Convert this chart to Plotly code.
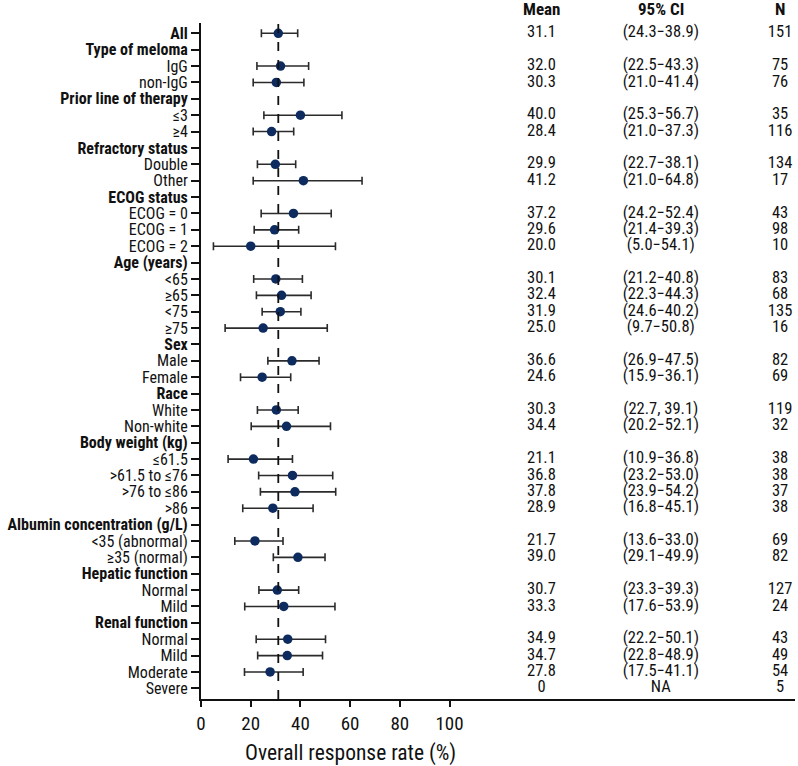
import plotly.graph_objects as go

FONT = "Roboto Condensed, Liberation Sans Narrow, sans-serif"

labels = ["All", "Type of meloma", "IgG", "non-IgG", "Prior line of therapy", "≤3", "≥4",
          "Refractory status", "Double", "Other", "ECOG status", "ECOG = 0", "ECOG = 1", "ECOG = 2",
          "Age (years)", "<65", "≥65", "<75", "≥75", "Sex", "Male", "Female", "Race", "White",
          "Non-white", "Body weight (kg)", "≤61.5", ">61.5 to ≤76", ">76 to ≤86", ">86",
          "Albumin concentration (g/L)", "<35 (abnormal)", "≥35 (normal)", "Hepatic function",
          "Normal", "Mild", "Renal function", "Normal", "Mild", "Moderate", "Severe"]
header_rows = [0, 1, 4, 7, 10, 14, 19, 22, 25, 30, 33, 36]

mean = [31.1, None, 32.0, 30.3, None, 40.0, 28.4, None, 29.9, 41.2, None, 37.2, 29.6, 20.0,
        None, 30.1, 32.4, 31.9, 25.0, None, 36.6, 24.6, None, 30.3, 34.4, None, 21.1, 36.8, 37.8, 28.9,
        None, 21.7, 39.0, None, 30.7, 33.3, None, 34.9, 34.7, 27.8, 0]
lo = [24.3, None, 22.5, 21.0, None, 25.3, 21.0, None, 22.7, 21.0, None, 24.2, 21.4, 5.0,
      None, 21.2, 22.3, 24.6, 9.7, None, 26.9, 15.9, None, 22.7, 20.2, None, 10.9, 23.2, 23.9, 16.8,
      None, 13.6, 29.1, None, 23.3, 17.6, None, 22.2, 22.8, 17.5, None]
hi = [38.9, None, 43.3, 41.4, None, 56.7, 37.3, None, 38.1, 64.8, None, 52.4, 39.3, 54.1,
      None, 40.8, 44.3, 40.2, 50.8, None, 47.5, 36.1, None, 39.1, 52.1, None, 36.8, 53.0, 54.2, 45.1,
      None, 33.0, 49.9, None, 39.3, 53.9, None, 50.1, 48.9, 41.1, None]
n = [151, None, 75, 76, None, 35, 116, None, 134, 17, None, 43, 98, 10,
     None, 83, 68, 135, 16, None, 82, 69, None, 119, 32, None, 38, 38, 37, 38,
     None, 69, 82, None, 127, 24, None, 43, 49, 54, 5]

overall = 31.1
rows = list(range(len(labels)))

# plotted points (Severe has no estimate)
px, py, ep, em = [], [], [], []
for i in rows:
    if lo[i] is None:
        continue
    px.append(mean[i]); py.append(i)
    ep.append(hi[i] - mean[i]); em.append(mean[i] - lo[i])

# table text
mean_txt, ci_txt, n_txt, ty = [], [], [], []
for i in rows:
    if n[i] is None:
        continue
    ty.append(i)
    m = mean[i]
    mean_txt.append("0" if m == 0 else f"{m:.1f}")
    if lo[i] is None:
        ci_txt.append("NA")
    elif i == 23:  # the source writes this one with a comma
        ci_txt.append(f"({lo[i]:.1f}, {hi[i]:.1f})")
    else:
        ci_txt.append(f"({lo[i]:.1f}\u2212{hi[i]:.1f})")
    n_txt.append(str(n[i]))

col_x = {"Mean": 137, "95% CI": 185, "N": 233}

fig = go.Figure()

fig.add_trace(go.Scatter(
    x=px, y=py, mode="markers",
    marker=dict(color="#0d2b5e", size=9.5),
    error_x=dict(type="data", symmetric=False, array=ep, arrayminus=em,
                 color="#2b2b2b", thickness=1.6, width=4),
    showlegend=False, cliponaxis=False,
))

for txt, key in [(mean_txt, "Mean"), (ci_txt, "95% CI"), (n_txt, "N")]:
    fig.add_trace(go.Scatter(
        x=[col_x[key]] * len(ty), y=ty, mode="text", text=txt,
        textposition="middle center",
        textfont=dict(family=FONT, size=16.5, color="#111"),
        showlegend=False, cliponaxis=False, hoverinfo="skip",
    ))

for key, xv in col_x.items():
    fig.add_annotation(x=xv, y=1.0, xref="x", yref="paper", yanchor="middle", yshift=14,
                       text=f"<b>{key}</b>", showarrow=False,
                       font=dict(family=FONT, size=17, color="#111"))

fig.add_shape(type="line", x0=overall, x1=overall, y0=0, y1=1, xref="x", yref="paper",
              line=dict(color="#111", width=1.8, dash="dash"))

fig.add_annotation(x=60, y=-0.080, xref="x", yref="paper", yanchor="middle",
                   text="Overall response rate (%)",
                   showarrow=False, font=dict(family=FONT, size=21.5, color="#111"))

ticktext = [f"<b>{l}</b>" if i in header_rows else l for i, l in enumerate(labels)]

fig.update_layout(
    width=798, height=766,
    margin=dict(l=201, r=3, t=23, b=67),
    paper_bgcolor="white", plot_bgcolor="white",
    font=dict(family=FONT, size=16, color="#111"),
    xaxis=dict(range=[0, 239], tickvals=[0, 20, 40, 60, 80, 100], ticks="outside",
               ticklen=6, tickwidth=1.5, tickcolor="#111", showline=True, linecolor="#111",
               linewidth=2, showgrid=False, zeroline=False, automargin=False,
               tickfont=dict(family=FONT, size=19, color="#111")),
    yaxis=dict(range=[40.65, -0.63], tickvals=rows, ticktext=ticktext, ticks="outside",
               ticklen=8, tickwidth=1.5, tickcolor="#111", showline=True, linecolor="#111",
               linewidth=2, showgrid=False, zeroline=False, automargin=False,
               tickfont=dict(family=FONT, size=16, color="#111")),
)

# drop the page's default body margin so the figure fills the window
fig.write_html("out.html", config={"displayModeBar": False},
               post_script="document.body.style.margin='0';")
